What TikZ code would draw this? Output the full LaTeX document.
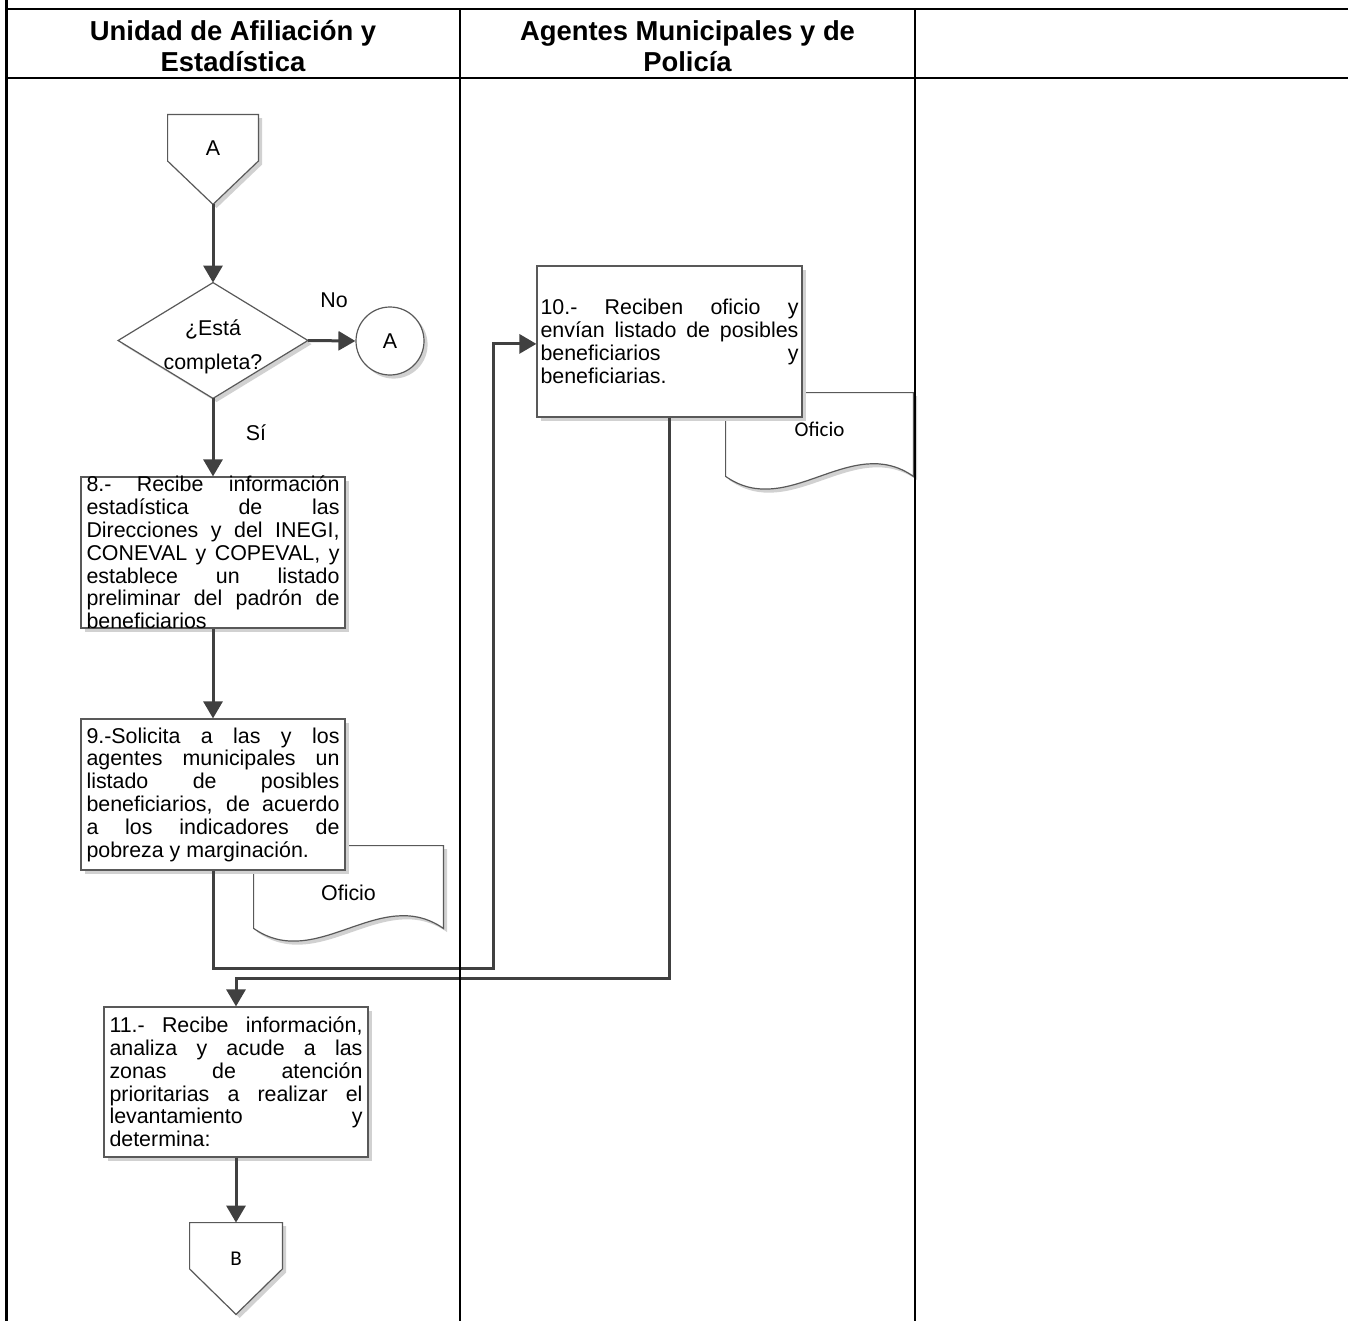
\documentclass[tikz,border=0pt]{standalone}
\usepackage{fontspec}
\setmainfont{Liberation Sans}
\newfontfamily\calfont{Carlito}
\usetikzlibrary{arrows.meta,calc,shadows}
\pgfdeclarelayer{shp}
\pgfsetlayers{shp,main}

\begin{document}
\begin{tikzpicture}[
  x=0.5pt, y=-0.5pt,
  boxfont/.style={font=\fontsize{10.7pt}{11.4pt}\selectfont},
  headfont/.style={font=\fontsize{13.7pt}{15.5pt}\selectfont\bfseries},
  softshadow/.style={drop shadow={shadow xshift=1.8pt, shadow yshift=-1.8pt, fill=black!18, opacity=1}},
  outline/.style={draw=black!65, line width=0.6pt, fill=white, softshadow},
  procbox/.style={outline, boxfont, align=justify, inner xsep=0pt, inner ysep=-4pt,
    minimum height=75.5pt,
    execute at begin node={\tolerance=10000\hbadness=10000\hyphenpenalty=10000}},
  holder/.style={inner sep=0pt, boxfont},
  flow/.style={draw=black!75, line width=1.5pt, -{Triangle[length=8.5pt,width=9.5pt]}},
  tline/.style={draw=black, line width=1.4pt},
  cline/.style={draw=black, line width=1pt}
]
\useasboundingbox (0,0) rectangle (1348,1321);

% column titles
\node[headfont, align=center] (h1) at (233,46) {Unidad de Afiliación y\\Estadística};
\node[headfont, align=center] (h2) at (687.5,46) {Agentes Municipales y de\\Policía};

% documents (they sit behind the process boxes)
\node[holder, minimum width=94.5pt, minimum height=41pt, text height=13.5pt] (doc9) at (348.5,887) {Oficio};
\node[holder, font=\calfont\fontsize{10.5pt}{12pt}\selectfont, minimum width=93.5pt, minimum height=41.5pt, text depth=5.5pt] (doc10) at (819.5,434.5) {Oficio};

% off-page connectors and decision
\node[holder, minimum width=45pt, minimum height=44.5pt, text depth=11.5pt] (offA) at (213,159.5) {A};
\node[holder, font=\calfont\fontsize{10.5pt}{12pt}\selectfont, minimum width=46pt, minimum height=45.5pt, text depth=9.5pt] (offB) at (236,1268.5) {B};
\node[holder, align=center, font=\fontsize{10.7pt}{17pt}\selectfont, minimum width=94.5pt, minimum height=57.5pt, text height=31pt] (dec) at (213,340.5) {¿Está\\completa?};

\begin{pgfonlayer}{shp}
  \foreach \d in {doc9,doc10}
    \draw[outline] (\d.north west) -- (\d.north east) -- (\d.south east)
      .. controls ($(\d.south east)!1/3!(\d.south west)+(0pt,22pt)$)
      and ($(\d.south east)!2/3!(\d.south west)+(0pt,-22pt)$) .. (\d.south west) -- cycle;
  \draw[outline] (offA.north west) -- (offA.north east)
    -- ($(offA.north east)!0.517!(offA.south east)$) -- (offA.south)
    -- ($(offA.north west)!0.517!(offA.south west)$) -- cycle;
  \draw[outline] (offB.north west) -- (offB.north east)
    -- ($(offB.north east)!0.505!(offB.south east)$) -- (offB.south)
    -- ($(offB.north west)!0.505!(offB.south west)$) -- cycle;
  \draw[outline] (dec.north) -- (dec.east) -- (dec.south) -- (dec.west) -- cycle;
\end{pgfonlayer}

\node[outline, circle, minimum size=34pt, inner sep=0pt, boxfont] (conA) at (390,341) {A};

% process steps
\node[procbox, text width=126.5pt, minimum width=132pt] (p8) at (213,552.5)
  {8.- Recibe información\linebreak
   estadística de las\linebreak
   Direcciones y del INEGI,\linebreak
   CONEVAL y COPEVAL, y\linebreak
   establece un listado\linebreak
   preliminar del padrón de\linebreak
   beneficiarios};
\node[procbox, text width=126.5pt, minimum width=132pt] (p9) at (213,794.5)
  {9.-Solicita a las y los\linebreak
   agentes municipales un\linebreak
   listado de posibles\linebreak
   beneficiarios, de acuerdo\linebreak
   a los indicadores de\linebreak
   pobreza y marginación.};
\node[procbox, text width=129pt, minimum width=132.5pt] (p10) at (669.5,341.5)
  {10.- Reciben oficio y\linebreak
   envían listado de posibles\linebreak
   beneficiarios y\linebreak
   beneficiarias.};
\node[procbox, text width=126.5pt, minimum width=132pt, minimum height=75pt] (p11) at (236,1082)
  {11.- Recibe información,\linebreak
   analiza y acude a las\linebreak
   zonas de atención\linebreak
   prioritarias a realizar el\linebreak
   levantamiento y\linebreak
   determina:};

% branch labels
\node[boxfont] (lblno) at (334,300) {No};
\node[boxfont] (lblsi) at (256,433) {Sí};

% connectors
\coordinate (r1) at (493,968);
\coordinate (r2) at (669.5,978);
\draw[flow] (offA.south) -- (dec.north);
\draw[flow] (dec.east) -- (conA.west);
\draw[flow] (dec.south) -- (p8.north);
\draw[flow] (p8.south) -- (p9.north);
\draw[flow] (p9.south) |- (r1) |- ([yshift=-1.2pt]p10.west);
\draw[flow] (p10.south) -- (r2) -| (p11.north);
\draw[flow] (p11.south) -- (offB.north);

% swimlane frame
\draw[tline] (6.5,0) -- (6.5,1321);
\draw[tline] (6,9) -- (1348,9);
\draw[tline] (6,78) -- (1348,78);
\draw[cline] (460,9) -- (460,1321);
\draw[cline] (915,9) -- (915,1321);
\end{tikzpicture}
\end{document}
